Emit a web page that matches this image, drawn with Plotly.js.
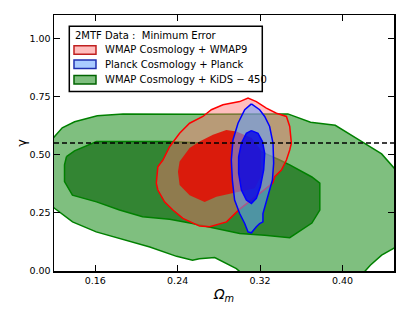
<!DOCTYPE html>
<html>
<head>
<meta charset="utf-8">
<script src="https://cdn.plot.ly/plotly-3.0.1.min.js"></script>
<style>html,body{margin:0;padding:0;background:#fff;}#chart{width:415px;height:312px;}</style>
</head>
<body>
<div id="chart"></div>
<script>
// KiDS-450 (green) contours
const greenOuterX = [0.108,0.1195,0.128,0.140,0.162,0.187,0.261,0.347,0.369,0.393,0.416,0.438,0.450,0.462,0.462,0.450,0.438,0.427,0.420,0.41,0.31,0.300,0.297,0.276,0.261,0.2545,0.239,0.213,0.187,0.161,0.138,0.1195,0.108];
const greenOuterY = [0.50,0.573,0.615,0.641,0.667,0.675,0.673,0.675,0.639,0.626,0.563,0.503,0.443,0.38,0.15,0.098,0.068,0.025,-0.01,-0.04,-0.04,-0.002,0.010,0.058,0.053,0.046,0.063,0.103,0.137,0.168,0.211,0.273,0.33];
const greenInnerX = [0.1321,0.1399,0.1613,0.2322,0.2907,0.3198,0.339,0.3488,0.3703,0.378,0.378,0.3703,0.3488,0.3245,0.3003,0.2779,0.2545,0.2322,0.206,0.1836,0.1613,0.1379,0.1302,0.1302];
const greenInnerY = [0.491,0.516,0.556,0.556,0.545,0.515,0.477,0.456,0.404,0.378,0.262,0.206,0.143,0.154,0.161,0.183,0.204,0.222,0.233,0.262,0.297,0.326,0.384,0.456];
// WMAP9 (red) contours
const redOuterX = [0.2193,0.2208,0.2257,0.2322,0.2419,0.2516,0.2645,0.2727,0.284,0.2937,0.3002,0.3083,0.3164,0.3261,0.3359,0.3456,0.3488,0.3504,0.3488,0.3456,0.3407,0.3342,0.3323,0.3164,0.3002,0.2875,0.2711,0.2613,0.2451,0.2354,0.2273,0.2208];
const redOuterY = [0.377,0.448,0.477,0.534,0.592,0.635,0.664,0.693,0.714,0.722,0.728,0.743,0.728,0.700,0.678,0.664,0.621,0.549,0.520,0.477,0.434,0.405,0.378,0.322,0.266,0.211,0.190,0.193,0.226,0.262,0.297,0.348];
const redInnerX = [0.2403,0.2419,0.2516,0.2613,0.2743,0.2873,0.297,0.3119,0.3206,0.3216,0.3148,0.2921,0.2776,0.2662,0.2516,0.2419];
const redInnerY = [0.427,0.470,0.528,0.556,0.585,0.606,0.599,0.572,0.520,0.412,0.356,0.334,0.319,0.297,0.326,0.369];
// Planck (blue) contours
const blueOuterX = [0.3116,0.3196,0.3245,0.3293,0.3326,0.3332,0.332,0.3293,0.3261,0.3228,0.3228,0.3196,0.3164,0.3116,0.3083,0.3051,0.3002,0.2953,0.2931,0.2921,0.2937,0.2986,0.3051];
const blueOuterY = [0.718,0.693,0.664,0.621,0.549,0.463,0.391,0.348,0.291,0.247,0.211,0.204,0.190,0.164,0.168,0.204,0.247,0.305,0.391,0.477,0.563,0.635,0.693];
const blueInnerX = [0.3116,0.318,0.3223,0.3245,0.3235,0.3203,0.3164,0.3116,0.3067,0.3019,0.2992,0.2992,0.3019,0.3067];
const blueInnerY = [0.603,0.592,0.556,0.506,0.434,0.362,0.312,0.290,0.305,0.348,0.420,0.491,0.549,0.592];
// GR reference gamma
const refX = [0.12, 0.45];
const refY = [0.55, 0.55];

const xTicks = [0.16, 0.24, 0.32, 0.40];
const yTicks = [0.00, 0.25, 0.50, 0.75, 1.00];

const legendHeader = "2MTF Data :  Minimum Error";
const legendLabels = ["WMAP Cosmology + WMAP9", "Planck Cosmology + Planck", "WMAP Cosmology + KiDS \u2212 450"];

const C = {
  gOuter: 'rgba(0,128,0,0.5)', gInner: 'rgba(0,95,0,0.6)', gLine: '#008000',
  rOuter: 'rgba(255,110,110,0.45)', rInner: 'rgba(222,22,8,0.95)', rLine: '#ff0000',
  bOuter: 'rgba(100,160,255,0.55)', bInner: 'rgba(0,0,230,0.78)', bLine: '#0000ff'
};
const font = 'DejaVu Sans, sans-serif';

function poly(x, y, fill, line, lw) {
  return {x: x.concat([x[0]]), y: y.concat([y[0]]), type: 'scatter', mode: 'lines', fill: 'toself',
    fillcolor: fill, line: {color: line, width: lw}, hoverinfo: 'skip', showlegend: false};
}

const traces = [
  poly(greenOuterX, greenOuterY, C.gOuter, C.gLine, 1.5),
  poly(greenInnerX, greenInnerY, C.gInner, C.gLine, 1.5),
  poly(redOuterX, redOuterY, C.rOuter, C.rLine, 1.5),
  poly(redInnerX, redInnerY, C.rInner, 'rgba(0,0,0,0)', 0),
  poly(blueOuterX, blueOuterY, C.bOuter, C.bLine, 1.5),
  poly(blueInnerX, blueInnerY, C.bInner, C.bLine, 1.5),
  {x: refX, y: refY, type: 'scatter', mode: 'lines', line: {color: '#000', width: 1.5, dash: '5px,3px'}, showlegend: false, hoverinfo: 'skip'}
];

// legend (paper coords)
const lgRows = [0.8636, 0.808, 0.747];
const patchFill = [C.rOuter, C.bOuter, C.gOuter];
const patchLine = ['#c02020', '#2030b0', '#006400'];
const shapes = [{type: 'rect', xref: 'paper', yref: 'paper', x0: 0.045, x1: 0.6126, y0: 0.701, y1: 0.956,
  fillcolor: '#fff', line: {color: '#000', width: 1.5}}];
const annotations = [{xref: 'paper', yref: 'paper', x: 0.0565, y: 0.9205, xanchor: 'left', yanchor: 'middle',
  text: legendHeader.replace(/  /g, ' &nbsp;'), showarrow: false, font: {family: font, size: 10, color: '#000'}}];
legendLabels.forEach((t, i) => {
  const yc = lgRows[i];
  shapes.push({type: 'rect', xref: 'paper', yref: 'paper', x0: 0.0588, x1: 0.1235, y0: yc - 0.0165, y1: yc + 0.0165,
    fillcolor: patchFill[i], line: {color: patchLine[i], width: 1.5}});
  annotations.push({xref: 'paper', yref: 'paper', x: 0.144, y: yc, xanchor: 'left', yanchor: 'middle',
    text: t, showarrow: false, font: {family: font, size: 10, color: '#000'}});
});

const axisCommon = {showline: true, linecolor: '#000', linewidth: 1.5, mirror: 'ticks', ticks: 'inside',
  ticklen: 6, tickwidth: 1, tickcolor: '#000', showgrid: false, zeroline: false,
  tickfont: {family: font, size: 9.5, color: '#000'}, tickformat: '.2f', tickmode: 'array'};

const layout = {
  width: 415, height: 312,
  margin: {l: 54, r: 21, t: 15, b: 41, pad: 0},
  paper_bgcolor: '#fff', plot_bgcolor: '#fff',
  showlegend: false,
  xaxis: Object.assign({}, axisCommon, {range: [0.12, 0.45], tickvals: xTicks,
    title: {text: '<i>\u03A9<sub>m</sub></i>', font: {family: font, size: 14, color: '#000'}, standoff: 4}}),
  yaxis: Object.assign({}, axisCommon, {range: [0, 1.1], tickvals: yTicks,
    title: {text: '\u03B3', font: {family: font, size: 13, color: '#000'}, standoff: 0}}),
  shapes: shapes,
  annotations: annotations
};

Plotly.newPlot('chart', traces, layout, {staticPlot: true, displayModeBar: false});
</script>
</body>
</html>
